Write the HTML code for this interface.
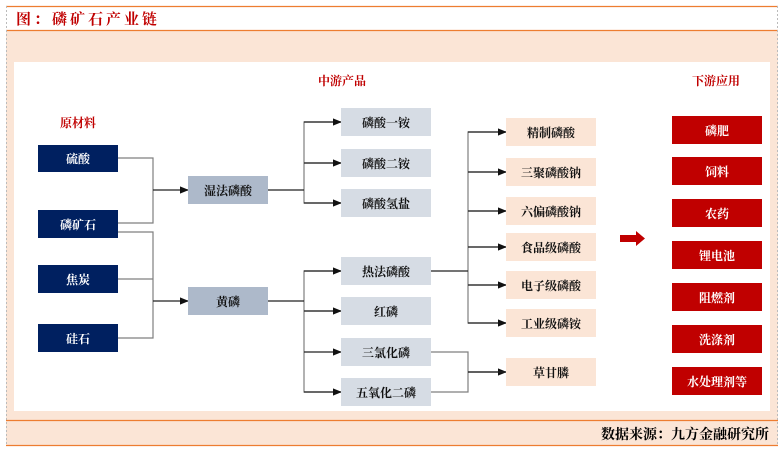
<!DOCTYPE html>
<html><head><meta charset="utf-8"><style>
body{margin:0;width:784px;height:450px;background:#fff;overflow:hidden}
svg text{font-family:"Liberation Serif","Noto Serif CJK SC",serif;font-weight:bold}
</style></head><body>
<svg width="784" height="450" xmlns="http://www.w3.org/2000/svg">
<defs><marker id="a" viewBox="0 0 10 10" refX="9" refY="5" markerWidth="7" markerHeight="7" orient="auto"><path d="M0,1 L10,5 L0,9 z" fill="#111"/></marker></defs>
<rect x="6" y="30" width="772" height="416" fill="#fbe5d6"/>
<rect x="6" y="7" width="772" height="23" fill="#fff"/>
<line x1="6" y1="6.5" x2="778" y2="6.5" stroke="#ed7d31" stroke-width="1.2"/>
<line x1="6" y1="30.5" x2="778" y2="30.5" stroke="#ed7d31" stroke-width="1.2"/>
<line x1="6.5" y1="6" x2="6.5" y2="446" stroke="#bbb" stroke-dasharray="2,2"/>
<line x1="777.5" y1="6" x2="777.5" y2="446" stroke="#bbb" stroke-dasharray="2,2"/>
<text x="16" y="24" font-size="15" fill="#c00000" letter-spacing="3">图：磷矿石产业链</text>
<rect x="14" y="62" width="756" height="349" fill="#fff"/>
<line x1="6" y1="420.5" x2="778" y2="420.5" stroke="#ed7d31" stroke-width="1.2"/>
<line x1="6" y1="445.5" x2="778" y2="445.5" stroke="#ed7d31" stroke-width="1.2"/>
<text x="769" y="439" font-size="14" fill="#000" text-anchor="end">数据来源：九方金融研究所</text>

<g font-size="12" fill="#c00000" text-anchor="middle">
<text x="78" y="127">原材料</text><text x="342" y="85">中游产品</text><text x="716" y="85">下游应用</text></g>

<g fill="none" stroke="#7f7f7f" stroke-width="1.2">
<polyline points="118,158 153,158 153,223 118,223"/>
<polyline points="118,232 153,232 153,338 118,338"/>
<line x1="118" y1="279" x2="153" y2="279"/>
<polyline points="341,122 304,122 304,203 341,203"/>
<line x1="304" y1="163" x2="341" y2="163"/>
<polyline points="341,271 304,271 304,392 341,392"/>
<line x1="304" y1="311" x2="341" y2="311"/>
<polyline points="506,132 468,132 468,323 506,323"/>
<line x1="468" y1="172" x2="506" y2="172"/><line x1="468" y1="211" x2="506" y2="211"/>
<line x1="468" y1="247" x2="506" y2="247"/><line x1="468" y1="285" x2="506" y2="285"/>
<polyline points="431,352 468,352 468,392 431,392"/>
</g>
<g stroke="#222" stroke-width="1.3" marker-end="url(#a)">
<line x1="153" y1="190" x2="188" y2="190"/><line x1="153" y1="301" x2="188" y2="301"/>
<line x1="304" y1="122" x2="341" y2="122"/><line x1="304" y1="163" x2="341" y2="163"/><line x1="304" y1="203" x2="341" y2="203"/>
<line x1="304" y1="271" x2="341" y2="271"/><line x1="304" y1="311" x2="341" y2="311"/><line x1="304" y1="352" x2="341" y2="352"/><line x1="304" y1="392" x2="341" y2="392"/>
<line x1="468" y1="132" x2="506" y2="132"/><line x1="468" y1="172" x2="506" y2="172"/><line x1="468" y1="211" x2="506" y2="211"/><line x1="468" y1="247" x2="506" y2="247"/><line x1="468" y1="285" x2="506" y2="285"/><line x1="468" y1="323" x2="506" y2="323"/><line x1="468" y1="372" x2="506" y2="372"/>
</g>
<g stroke="#222" stroke-width="1.3"><line x1="268" y1="190" x2="304" y2="190"/><line x1="268" y1="301" x2="304" y2="301"/><line x1="431" y1="271" x2="468" y2="271"/><line x1="468" y1="372" x2="506" y2="372"/></g>

<g fill="#002060"><rect x="38" y="145" width="80" height="27"/><rect x="38" y="210" width="80" height="28"/><rect x="38" y="265" width="80" height="28"/><rect x="38" y="324" width="80" height="28"/></g>
<g fill="#fff" font-size="12" text-anchor="middle"><text x="78" y="163">硫酸</text><text x="78" y="229">磷矿石</text><text x="78" y="284">焦炭</text><text x="78" y="343">硅石</text></g>

<g fill="#adb9ca"><rect x="188" y="176" width="80" height="28"/><rect x="188" y="287" width="80" height="28"/></g>
<g fill="#d6dce4"><rect x="341" y="108" width="90" height="28"/><rect x="341" y="149" width="90" height="28"/><rect x="341" y="189" width="90" height="28"/><rect x="341" y="257" width="90" height="28"/><rect x="341" y="297" width="90" height="28"/><rect x="341" y="338" width="90" height="28"/><rect x="341" y="378" width="90" height="28"/></g>
<g fill="#fbe5d6"><rect x="506" y="118" width="90" height="28"/><rect x="506" y="158" width="90" height="28"/><rect x="506" y="197" width="90" height="28"/><rect x="506" y="233" width="90" height="28"/><rect x="506" y="271" width="90" height="28"/><rect x="506" y="309" width="90" height="28"/><rect x="506" y="358" width="90" height="28"/></g>
<g fill="#111" font-size="12" text-anchor="middle">
<text x="228" y="195">湿法磷酸</text><text x="228" y="306">黄磷</text>
<text x="386" y="127">磷酸一铵</text><text x="386" y="168">磷酸二铵</text><text x="386" y="208">磷酸氢盐</text><text x="386" y="276">热法磷酸</text><text x="386" y="316">红磷</text><text x="386" y="357">三氯化磷</text><text x="386" y="397">五氧化二磷</text>
<text x="551" y="137">精制磷酸</text><text x="551" y="177">三聚磷酸钠</text><text x="551" y="216">六偏磷酸钠</text><text x="551" y="252">食品级磷酸</text><text x="551" y="290">电子级磷酸</text><text x="551" y="328">工业级磷铵</text><text x="551" y="377">草甘膦</text>
</g>
<path d="M620,235 L636,235 L636,231 L645,238.5 L636,246 L636,242 L620,242 z" fill="#c00000"/>
<g fill="#c00000"><rect x="672" y="116" width="90" height="28"/><rect x="672" y="157" width="90" height="28"/><rect x="672" y="199" width="90" height="28"/><rect x="672" y="241" width="90" height="28"/><rect x="672" y="283" width="90" height="28"/><rect x="672" y="325" width="90" height="28"/><rect x="672" y="367" width="90" height="28"/></g>
<g fill="#fff" font-size="12" text-anchor="middle">
<text x="717" y="135">磷肥</text><text x="717" y="176">饲料</text><text x="717" y="218">农药</text><text x="717" y="260">锂电池</text><text x="717" y="302">阻燃剂</text><text x="717" y="344">洗涤剂</text><text x="717" y="386">水处理剂等</text>
</g>
</svg>
</body></html>
